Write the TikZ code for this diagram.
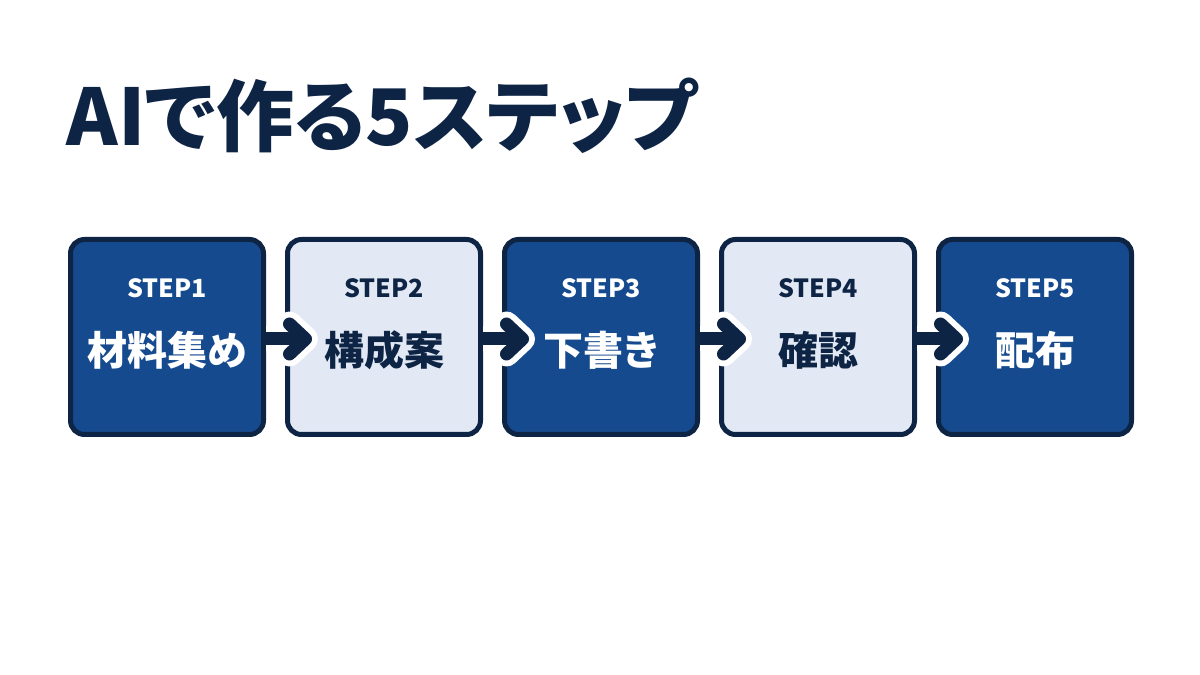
\documentclass[tikz,border=0pt]{standalone}
\usepackage{fontspec}
\newfontfamily\jp[RawFeature=+palt]{Noto Sans CJK JP}
\usetikzlibrary{arrows.meta,positioning}
\definecolor{navy}{HTML}{0E2445}
\definecolor{deepblue}{HTML}{164A8F}
\definecolor{paleblue}{HTML}{E2E9F4}
\tikzset{
  box/.style={draw=navy, line width=5pt, rounded corners=14pt, minimum width=193pt, minimum height=195pt},
  darkbox/.style={box, fill=deepblue},
  lightbox/.style={box, fill=paleblue},
  steplabel/.style={font=\jp\bfseries\fontsize{25}{25}\selectfont},
  maintext/.style={font=\jp\bfseries\fontsize{40}{40}\selectfont},
  halo/.style={white, line width=25pt, -{Straight Barb[round, length=16pt, width=30pt]}},
  flow/.style={navy, line width=13pt, -{Straight Barb[round, length=16pt, width=30pt]}}
}
\begin{document}
\begin{tikzpicture}[x=1pt,y=1pt]
\useasboundingbox[fill=white] (0,0) rectangle (1200,675);
% title
\node[anchor=west, navy, font=\jp\bfseries\fontsize{78}{78}\selectfont] (title) at (63,559) {AIで作る5ステップ};
% boxes
\node[darkbox] (b1) at (167,338) {};
\node[lightbox, right=19pt of b1] (b2) {};
\node[darkbox, right=19pt of b2] (b3) {};
\node[lightbox, right=19pt of b3] (b4) {};
\node[darkbox, right=19pt of b4] (b5) {};
% labels
\node[steplabel, white] (l1) at ([yshift=49pt]b1.center) {STEP1};
\node[maintext, white] (m1) at ([yshift=-13pt]b1.center) {材料集め};
\node[steplabel, navy] (l2) at ([yshift=49pt]b2.center) {STEP2};
\node[maintext, navy] (m2) at ([yshift=-13pt]b2.center) {構成案};
\node[steplabel, white] (l3) at ([yshift=49pt]b3.center) {STEP3};
\node[maintext, white] (m3) at ([yshift=-13pt]b3.center) {下書き};
\node[steplabel, navy] (l4) at ([yshift=49pt]b4.center) {STEP4};
\node[maintext, navy] (m4) at ([yshift=-13pt]b4.center) {確認};
\node[steplabel, white] (l5) at ([yshift=49pt]b5.center) {STEP5};
\node[maintext, white] (m5) at ([yshift=-13pt]b5.center) {配布};
% arrows
\draw[halo] ([yshift=-2pt]b1.east) -- ([xshift=33pt,yshift=-2pt]b2.west);
\draw[flow] ([xshift=-3pt,yshift=-2pt]b1.east) -- ([xshift=27pt,yshift=-2pt]b2.west);
\draw[halo] ([yshift=-2pt]b2.east) -- ([xshift=33pt,yshift=-2pt]b3.west);
\draw[flow] ([xshift=-3pt,yshift=-2pt]b2.east) -- ([xshift=27pt,yshift=-2pt]b3.west);
\draw[halo] ([yshift=-2pt]b3.east) -- ([xshift=33pt,yshift=-2pt]b4.west);
\draw[flow] ([xshift=-3pt,yshift=-2pt]b3.east) -- ([xshift=27pt,yshift=-2pt]b4.west);
\draw[halo] ([yshift=-2pt]b4.east) -- ([xshift=33pt,yshift=-2pt]b5.west);
\draw[flow] ([xshift=-3pt,yshift=-2pt]b4.east) -- ([xshift=27pt,yshift=-2pt]b5.west);
\end{tikzpicture}
\end{document}
